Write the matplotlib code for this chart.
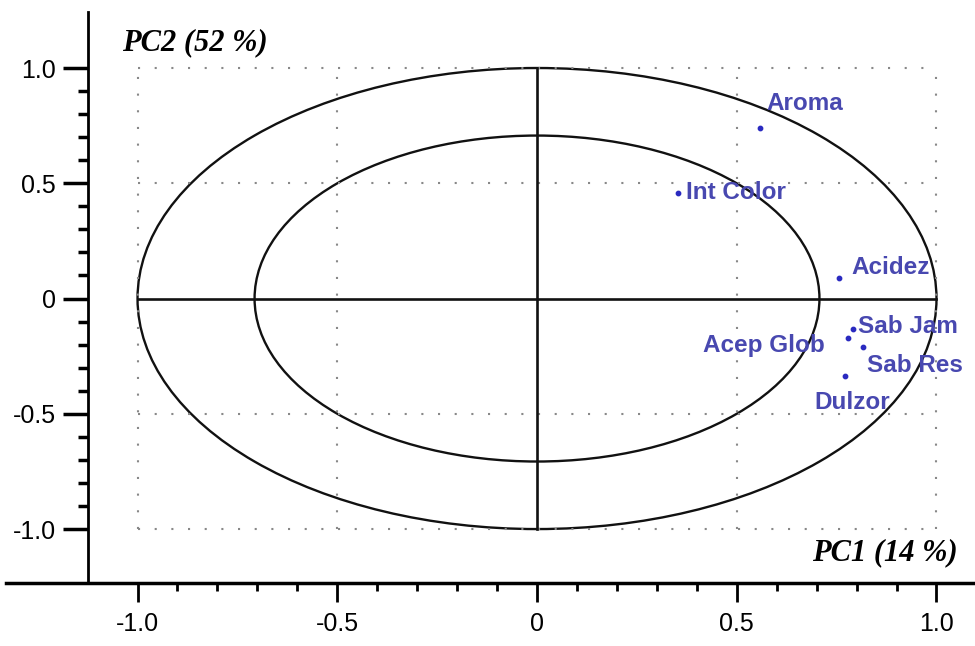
import numpy as np
import matplotlib
matplotlib.use("Agg")
import matplotlib.pyplot as plt
from matplotlib.patches import Circle
from matplotlib.ticker import FixedLocator

# loadings
variables = ["Aroma", "Int Color", "Acidez", "Sab Jam", "Acep Glob", "Sab Res", "Dulzor"]
pc1 = [0.557, 0.353, 0.757, 0.790, 0.778, 0.815, 0.772]
pc2 = [0.740, 0.459, 0.087, -0.130, -0.173, -0.212, -0.338]

# where each label sits (data coords) and how it is anchored
label_x = [0.573, 0.373, 0.788, 0.803, 0.720, 0.825, 0.695]
label_y = [0.848, 0.459, 0.134, -0.121, -0.203, -0.290, -0.450]
label_ha = ["left", "left", "left", "left", "right", "left", "left"]

tick_vals = [-1.0, -0.5, 0.0, 0.5, 1.0]
tick_labels = ["-1.0", "-0.5", "0", "0.5", "1.0"]
minor_vals = np.round(np.arange(-1.0, 1.01, 0.1), 2)
grid_vals = [-1.0, -0.5, 0.5, 1.0]
radii = [1.0, 0.707]

W, H = 975, 646
fig = plt.figure(figsize=(W / 100, H / 100), dpi=100)
fig.patch.set_facecolor("white")

# axes box: left spine at px 88, bottom spine at px 583, top at px 12
ax = fig.add_axes([88 / W, (H - 583) / H, (W - 88) / W, (583 - 12) / H])
ax.set_xlim(-1.124, 1.0964)
ax.set_ylim(-1.234, 1.243)

for s in ["top", "right"]:
    ax.spines[s].set_visible(False)
ax.spines["left"].set_linewidth(2)
ax.spines["bottom"].set_linewidth(2.5)
ax.spines["bottom"].set_bounds(-1.33, 1.0964)
ax.spines["bottom"].set_clip_on(False)

tick_font = ["Liberation Sans", "DejaVu Sans"]

ax.set_xticks(tick_vals)
ax.set_xticklabels(tick_labels, family=tick_font, fontsize=18)
ax.set_yticks(tick_vals)
ax.set_yticklabels(tick_labels, family=tick_font, fontsize=18)
ax.xaxis.set_minor_locator(FixedLocator(minor_vals))
ax.yaxis.set_minor_locator(FixedLocator(minor_vals))
ax.tick_params(axis="x", which="major", direction="out", length=14, width=2, pad=7)
ax.tick_params(axis="x", which="minor", direction="out", length=6, width=2)
ax.tick_params(axis="y", which="major", direction="out", length=18, width=2.5, pad=5)
ax.tick_params(axis="y", which="minor", direction="out", length=7, width=2.5)

# dotted grid confined to the unit square
dot = (0, (1, 7))
ax.hlines(grid_vals, -1, 1, colors="#888888", linestyles=[dot], linewidth=1.5)
ax.vlines(grid_vals, -1, 1, colors="#888888", linestyles=[dot], linewidth=1.5)

# correlation circles
for r in radii:
    ax.add_patch(Circle((0, 0), r, fill=False, edgecolor="#111111", linewidth=1.7))

# cross
ax.plot([-1, 1], [0, 0], color="#111111", linewidth=1.9)
ax.plot([0, 0], [-1, 1], color="#111111", linewidth=1.9)

blue = "#4848b0"
ax.scatter(pc1, pc2, s=10, color="#2a2ac0", zorder=4)
for name, lx, ly, ha in zip(variables, label_x, label_y, label_ha):
    ax.text(lx, ly, name, ha=ha, va="center", color=blue, fontsize=17.5,
            fontweight="bold", family=["Liberation Sans", "DejaVu Sans"], zorder=5)

serif = ["Liberation Serif", "DejaVu Serif"]
fig.text(122 / W, 1 - 43 / H, "PC2 (52 %)", ha="left", va="center", fontsize=22,
         fontweight="bold", fontstyle="italic", family=serif)
fig.text(958 / W, 1 - 553 / H, "PC1 (14 %)", ha="right", va="center", fontsize=22,
         fontweight="bold", fontstyle="italic", family=serif)

fig.savefig("out.png", dpi=100, facecolor="white")
